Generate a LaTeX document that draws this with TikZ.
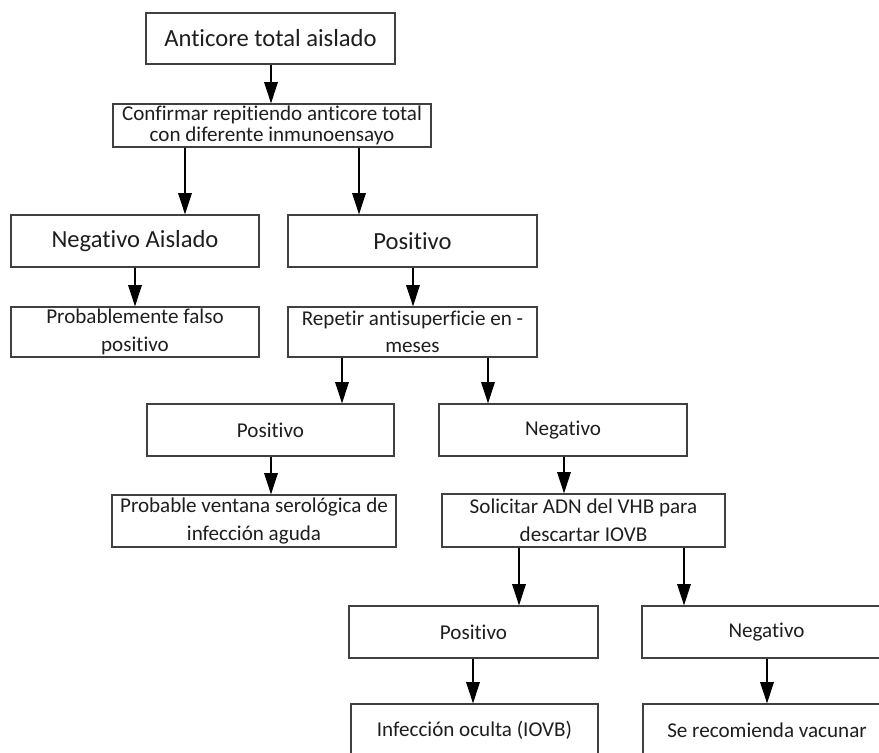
\documentclass[tikz,border=0pt]{standalone}
\usepackage{fontspec}
\setmainfont[Ligatures=NoCommon]{Carlito}
\usetikzlibrary{arrows.meta, positioning, calc}
\definecolor{boxline}{RGB}{64, 64, 64}
\definecolor{boxtext}{RGB}{30, 30, 30}

\begin{document}
\begin{tikzpicture}[x=0.025cm, y=-0.025cm,
    caja/.style={draw=boxline, line width=0.9pt, inner sep=0pt, align=center,
                 text=boxtext, minimum height=1.3cm},
    grande/.style={caja, font=\fontsize{17.5}{21}\selectfont},
    chica/.style={caja, font=\fontsize{15}{19.6}\selectfont},
    flecha/.style={-{Triangle[length=0.53cm, width=0.34cm]}, line width=0.9pt}]
      \useasboundingbox (0,0) rectangle (879,752);
      \clip (0,0) rectangle (879,752);

      % primer nivel
      \node[grande, minimum width=6.225cm, minimum height=1.275cm] (anti) at (270.5,38.5) {Anticore total aislado};
      \node[chica, minimum width=7.95cm, minimum height=1.075cm, font=\fontsize{15}{15.4}\selectfont]
        (conf) at (272,125.5) {Confirmar repitiendo anticore total\\con diferente inmunoensayo};
      \node[grande, minimum width=6.2cm] (negais) at (135,241) {Negativo Aislado};
      \node[grande, minimum width=6.225cm] (posa) at (412.5,241) {Positivo};
      \node[chica, minimum width=6.2cm, minimum height=1.25cm] (falso) at (135,332) {Probablemente falso\\positivo};
      \node[chica, minimum width=6.225cm, minimum height=1.25cm] (repet) at (412.5,332) {Repetir antisuperficie en -\\meses};

      % segundo nivel
      \node[chica, minimum width=6.175cm] (posb) at (270.5,430) {Positivo};
      \node[chica, minimum width=6.2cm] (negb) at (563,430) {Negativo};
      \node[chica, minimum width=7.1cm] (ventana) at (254,521) {Probable ventana serológica de\\infección aguda};
      \node[chica, minimum width=7.075cm, minimum height=1.325cm] (adn) at (583.5,520.5) {Solicitar ADN del VHB para\\descartar IOVB};

      % tercer nivel
      \node[chica, minimum width=6.225cm] (posc) at (473.5,632) {Positivo};
      \node[chica, minimum width=6.225cm] (negc) at (766.5,632) {Negativo};
      \node[chica, minimum width=6.175cm] (oculta) at (474.5,730) {Infección oculta (IOVB)};
      \node[chica, minimum width=6.2cm] (vacuna) at (767,730) {Se recomienda vacunar};

      \foreach \a/\b/\x in {anti/conf/271, conf/negais/185, conf/posa/359, negais/falso/135, posa/repet/413,
                            repet/posb/342, repet/negb/488, posb/ventana/271, negb/adn/564,
                            adn/posc/519, adn/negc/684, posc/oculta/473, negc/vacuna/767} {
        \draw[flecha] (\a.south -| \x,0) -- (\b.north -| \x,0);
      }
    \end{tikzpicture}
\end{document}
